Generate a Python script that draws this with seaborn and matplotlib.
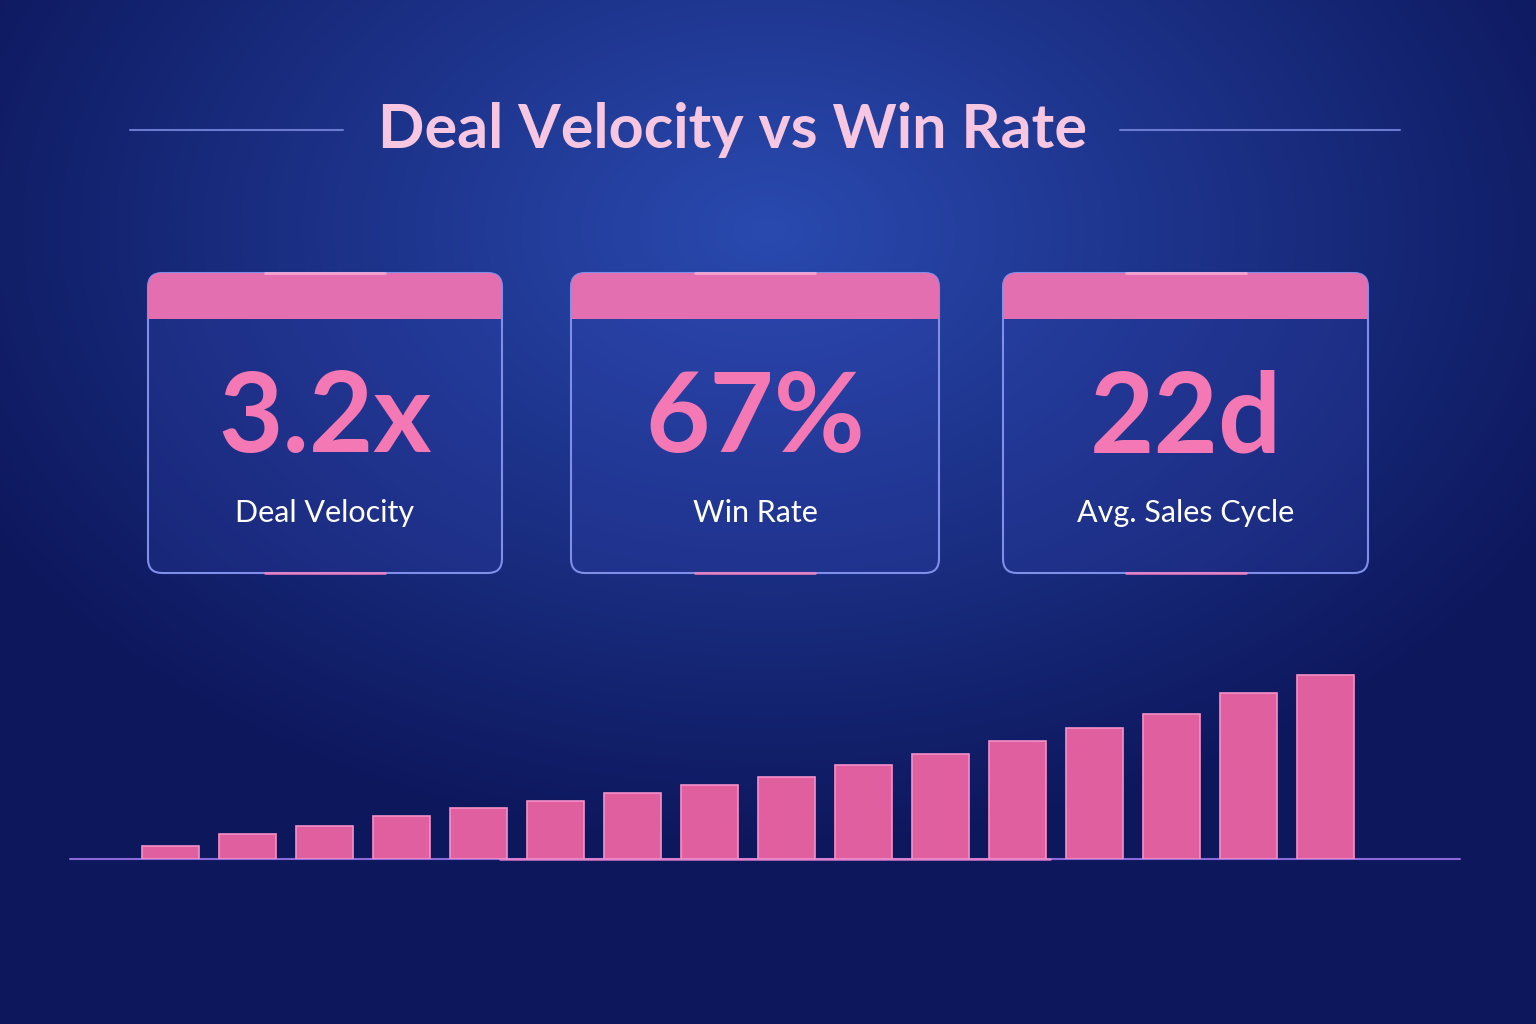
import numpy as np
import matplotlib
matplotlib.use("Agg")
import matplotlib.pyplot as plt
from matplotlib.patches import FancyBboxPatch, Rectangle
import seaborn as sns
import pandas as pd

sns.set_theme(style="white")
plt.rcParams['font.family'] = ['Lato', 'DejaVu Sans']

title = "Deal Velocity vs Win Rate"
kpi_values = ["3.2x", "67%", "22d"]
kpi_labels = ["Deal Velocity", "Win Rate", "Avg. Sales Cycle"]
periods = [f"P{i}" for i in range(1, 17)]
bar_values = [13, 25, 33, 43, 51, 58, 66, 74, 82, 94, 105, 118, 131, 145, 166, 184]

W, H = 1536, 1024
fig = plt.figure(figsize=(W/100, H/100), dpi=100)

bg = fig.add_axes([0, 0, 1, 1])
yy, xx = np.mgrid[0:H, 0:W]
d = np.sqrt(((xx-768)/900.0)**2 + ((yy-230)/620.0)**2)
t = np.clip(d, 0, 1)[..., None]
c_center = np.array([0x2a, 0x4a, 0xb0])/255
c_edge = np.array([0x0d, 0x17, 0x5c])/255
img = c_center*(1-t) + c_edge*t
bg.imshow(img, extent=[0, W, H, 0], aspect='auto')
bg.set_xlim(0, W); bg.set_ylim(H, 0); bg.axis('off')

bg.text(732, 130, title, color='#f7c6e0', fontsize=44, ha='center', va='center', fontweight='bold')
bg.plot([130, 343], [130, 130], color='#6a7ad0', lw=1.5)
bg.plot([1120, 1400], [130, 130], color='#6a7ad0', lw=1.5)

cards = [(148, 502), (571, 939), (1003, 1368)]
for (x0, x1), v, lab in zip(cards, kpi_values, kpi_labels):
    y0, y1 = 273, 573
    bg.add_patch(FancyBboxPatch((x0, y0), x1-x0, y1-y0, boxstyle="round,pad=0,rounding_size=14",
                                fc=(0.2, 0.27, 0.7, 0.25), ec='#7f8ee8', lw=1.5))
    bg.add_patch(FancyBboxPatch((x0, y0), x1-x0, 46, boxstyle="round,pad=0,rounding_size=14",
                                fc='#e46fb0', ec='none'))
    bg.add_patch(Rectangle((x0, y0+30), x1-x0, 16, fc='#e46fb0', ec='none'))
    cx = (x0+x1)/2
    bg.plot([cx-60, cx+60], [y0, y0], color='#ffb0d8', lw=2, alpha=0.8)
    bg.plot([cx-60, cx+60], [y1, y1], color='#ff80c0', lw=2, alpha=0.8)
    bg.text(cx, 420, v, color='#f478b4', fontsize=80, ha='center', va='center', fontweight='bold')
    bg.text(cx, 513, lab, color='white', fontsize=22, ha='center', va='center')

bg.plot([70, 1460], [859, 859], color='#8a6ad8', lw=1.5)
bg.plot([500, 1050], [859, 859], color='#ff8ad0', lw=2, alpha=0.7)

ax = fig.add_axes([132/W, 1-859/H, 1232/W, 200/H])
df = pd.DataFrame({"period": periods, "value": bar_values})
sns.barplot(data=df, x="period", y="value", ax=ax, color='#e0609f', width=0.74,
            edgecolor='#f590c8', linewidth=1.2, saturation=1)
ax.set_ylim(0, 200)
ax.set_xlim(-0.5, 15.5)
ax.axis('off')
ax.patch.set_alpha(0)

fig.savefig("out.png", dpi=100)
